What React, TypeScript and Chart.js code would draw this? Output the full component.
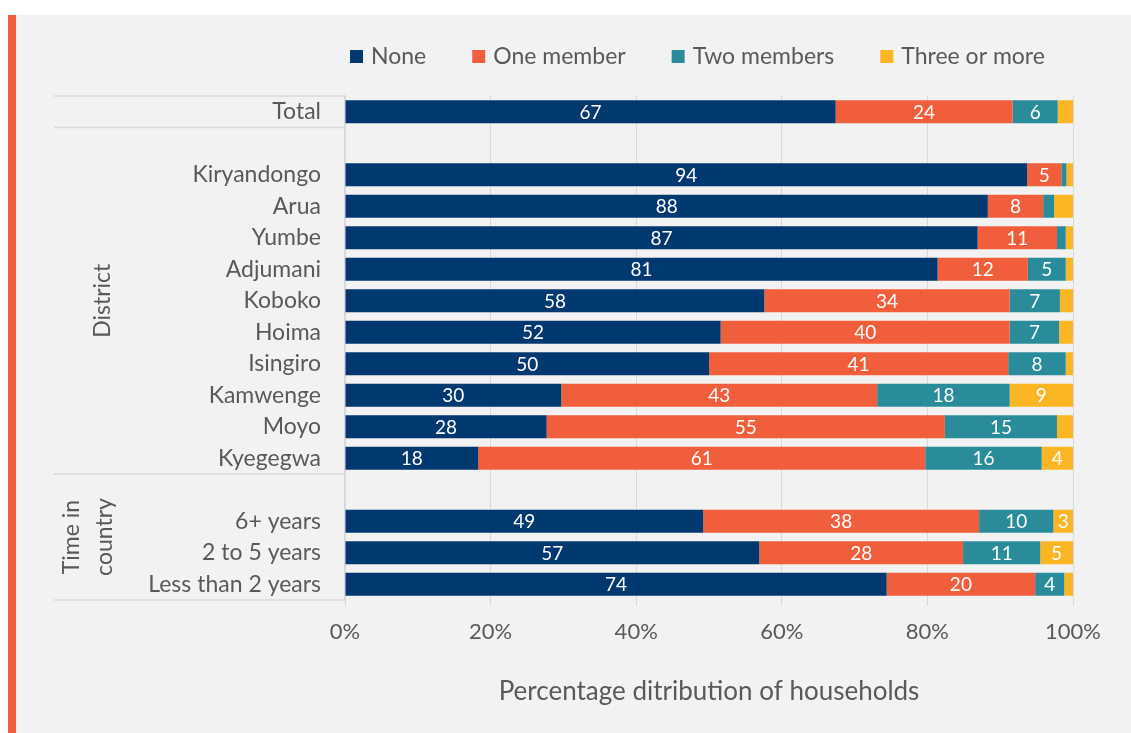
import React, { useEffect, useRef } from "react";
import { Chart, registerables } from "chart.js";

Chart.register(...registerables);

const categories = [
  "Total",
  "",
  "Kiryandongo",
  "Arua",
  "Yumbe",
  "Adjumani",
  "Koboko",
  "Hoima",
  "Isingiro",
  "Kamwenge",
  "Moyo",
  "Kyegegwa",
  "",
  "6+ years",
  "2 to 5 years",
  "Less than 2 years",
];

const seriesNames = ["None", "One member", "Two members", "Three or more"];

const noneValues = [67.4, null, 93.7, 88.3, 86.9, 81.4, 57.6, 51.6, 50.0, 29.7, 27.7, 18.3, null, 49.2, 56.9, 74.4];
const oneValues = [24.3, null, 4.7, 7.6, 10.9, 12.4, 33.7, 39.7, 41.1, 43.4, 54.7, 61.4, null, 37.9, 28.0, 20.4];
const twoValues = [6.2, null, 0.7, 1.5, 1.2, 5.2, 6.9, 6.8, 7.9, 18.2, 15.4, 16.0, null, 10.2, 10.6, 4.0];
const threeValues = [2.1, null, 0.9, 2.6, 1.0, 1.0, 1.8, 1.9, 1.0, 8.7, 2.2, 4.3, null, 2.7, 4.5, 1.2];

const xTicks = [0, 20, 40, 60, 80, 100];

// group blocks span from boundary (from - 0.5) to (to + 0.5)
const groups = [
  { lines: ["District"], from: 1, to: 11, xs: [103] },
  { lines: ["Time in", "country"], from: 12, to: 15, xs: [72, 105] },
];
const separators = [0, 1, 12, 16]; // boundary before category index

const colors = ["#00396F", "#F15E3C", "#2A8C9A", "#FDB623"];
const FONT = "Lato";
const TEXT = "#595959";
const GRID = "#D9D9D9";

export default function App() {
  const ref = useRef<HTMLCanvasElement | null>(null);

  useEffect(() => {
    if (!ref.current) return;
    document.body.style.margin = "0";

    const bgPlugin = {
      id: "bg",
      beforeDraw(chart: any) {
        const ctx = chart.ctx;
        ctx.save();
        ctx.fillStyle = "#FFFFFF";
        ctx.fillRect(0, 0, chart.width, chart.height);
        ctx.fillStyle = "#F2F2F2";
        ctx.fillRect(16, 15, chart.width - 16, chart.height - 15);
        ctx.fillStyle = "#F15E3C";
        ctx.fillRect(8, 15, 8, chart.height - 15);
        ctx.restore();
      },
    };

    const decorPlugin = {
      id: "decor",
      afterDraw(chart: any) {
        const ctx = chart.ctx;
        const y = chart.scales.y;
        const step = y.getPixelForValue(1) - y.getPixelForValue(0);
        const half = step / 2;
        const left = chart.chartArea.left;
        const y0 = y.getPixelForValue(0);
        ctx.save();
        // separators
        ctx.strokeStyle = GRID;
        ctx.lineWidth = 1.5;
        separators.forEach((i) => {
          const py = y0 + i * step - half;
          ctx.beginPath();
          ctx.moveTo(54, py);
          ctx.lineTo(left, py);
          ctx.stroke();
        });
        // group labels
        ctx.fillStyle = TEXT;
        ctx.font = `23px ${FONT}`;
        ctx.textAlign = "center";
        ctx.textBaseline = "middle";
        groups.forEach((g) => {
          const cy = y0 + ((g.from + g.to) / 2) * step;
          g.lines.forEach((t, k) => {
            ctx.save();
            ctx.translate(g.xs[k], cy);
            ctx.rotate(-Math.PI / 2);
            ctx.fillText(t, 0, 0);
            ctx.restore();
          });
        });
        // legend
        let x = 350;
        ctx.textAlign = "left";
        chart.data.datasets.forEach((ds: any, i: number) => {
          ctx.fillStyle = colors[i];
          ctx.fillRect(x, 50, 13, 13);
          ctx.fillStyle = TEXT;
          ctx.fillText(ds.label, x + 21, 57);
          x += 21 + ctx.measureText(ds.label).width + 46;
        });
        ctx.restore();
      },
      afterDatasetsDraw(chart: any) {
        const ctx = chart.ctx;
        ctx.save();
        ctx.fillStyle = "#FFFFFF";
        ctx.font = `19px ${FONT}`;
        ctx.textAlign = "center";
        ctx.textBaseline = "middle";
        chart.data.datasets.forEach((ds: any, di: number) => {
          const meta = chart.getDatasetMeta(di);
          meta.data.forEach((el: any, i: number) => {
            const v = ds.data[i];
            if (v == null || v < 2.7) return;
            ctx.fillText(String(Math.round(v)), (el.x + el.base) / 2, el.y + 1);
          });
        });
        ctx.restore();
      },
    };

    const chart = new Chart(ref.current, {
      type: "bar",
      data: {
        labels: categories,
        datasets: [noneValues, oneValues, twoValues, threeValues].map((d, i) => ({
          label: seriesNames[i],
          data: d,
          backgroundColor: colors[i],
          borderWidth: 0,
          barPercentage: 0.73,
          categoryPercentage: 1,
        })),
      },
      options: {
        indexAxis: "y",
        responsive: false,
        animation: false,
        layout: { padding: { top: 96, left: 0, right: 58, bottom: 0 } },
        plugins: {
          legend: { display: false },
          tooltip: { enabled: false },
        },
        scales: {
          x: {
            stacked: true,
            min: 0,
            max: 100,
            afterBuildTicks(scale: any) {
              scale.ticks = xTicks.map((v) => ({ value: v }));
            },
            afterFit(scale: any) {
              scale.height = 133;
            },
            ticks: {
              color: TEXT,
              font: { family: FONT, size: 22 },
              padding: 13,
              callback: (v: any) => v + "%",
            },
            grid: { color: GRID, lineWidth: 1, tickLength: 6, drawTicks: true },
            border: { display: false },
            title: {
              display: true,
              text: "Percentage ditribution of households",
              color: TEXT,
              font: { family: FONT, size: 26 },
              padding: { top: 0, bottom: 26 },
            },
          },
          y: {
            stacked: true,
            afterFit(scale: any) {
              scale.width = 345;
            },
            ticks: {
              color: TEXT,
              font: { family: FONT, size: 23 },
              padding: 24,
              autoSkip: false,
            },
            grid: { display: false, drawTicks: false },
            border: { display: true, color: GRID, width: 1.5 },
          },
        },
      },
      plugins: [bgPlugin, decorPlugin],
    } as any);

    return () => chart.destroy();
  }, []);

  return (
    <div style={{ position: "absolute", left: 0, top: 0, width: 1131, height: 733 }}>
      <canvas ref={ref} width={1131} height={733} />
    </div>
  );
}
